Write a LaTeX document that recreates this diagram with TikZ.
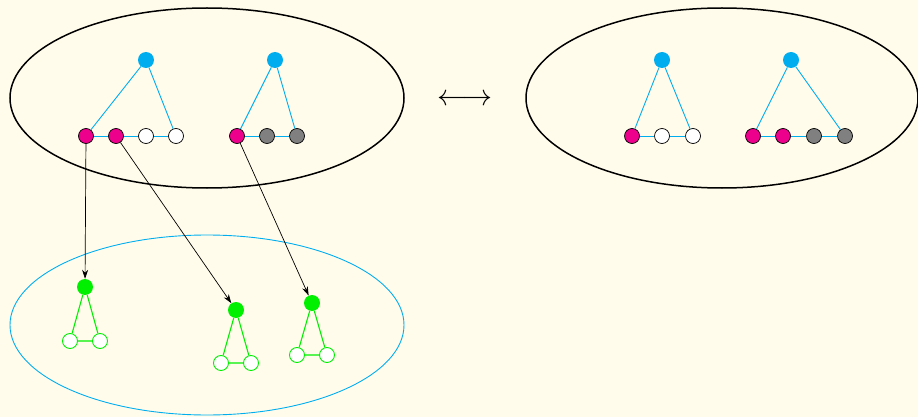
\documentclass[tikz,border=0pt]{standalone}
\usetikzlibrary{arrows.meta}
\definecolor{bgc}{RGB}{255,252,236}
\definecolor{cy}{RGB}{0,174,239}
\definecolor{mg}{RGB}{236,0,140}
\definecolor{gr}{RGB}{0,240,0}
\tikzset{
  topn/.style={circle,fill=cy,inner sep=0pt,minimum size=16pt},
  mgn/.style={circle,draw=black,fill=mg,inner sep=0pt,minimum size=15pt,line width=0.7pt},
  whn/.style={circle,draw=black,fill=white,inner sep=0pt,minimum size=15pt,line width=0.7pt},
  gyn/.style={circle,draw=black,fill=gray,inner sep=0pt,minimum size=15pt,line width=0.7pt},
  gtop/.style={circle,fill=gr,inner sep=0pt,minimum size=16pt},
  gwn/.style={circle,draw=gr,fill=white,inner sep=0pt,minimum size=15pt,line width=0.9pt},
  cedge/.style={draw=cy,line width=0.9pt},
  gedge/.style={draw=gr,line width=1.1pt},
  map/.style={draw=black,line width=0.7pt,-{Stealth[length=9pt,width=6pt]}},
}
\begin{document}
\begin{tikzpicture}[x=1pt,y=-1pt]
\fill[bgc] (0,0) rectangle (918,417);
\useasboundingbox (0,0) rectangle (918,417);
% ellipses
\draw[black,line width=1.5pt] (207,98) ellipse [x radius=197,y radius=90];
\draw[black,line width=1.5pt] (722,98) ellipse [x radius=196,y radius=90];
\draw[cy,line width=0.9pt] (207,325) ellipse [x radius=197,y radius=90];
% arrow
\node[scale=3,inner sep=0pt] (lr) at (465,100) {$\longleftrightarrow$};
% left top graphs
\node[topn] (a) at (146,60) {};
\node[topn] (b) at (275,60) {};
\node[mgn] (a1) at (86,136) {};
\node[mgn] (a2) at (116,136) {};
\node[whn] (a3) at (146,136) {};
\node[whn] (a4) at (176,136) {};
\node[mgn] (b1) at (237,136) {};
\node[gyn] (b2) at (267,136) {};
\node[gyn] (b3) at (297,136) {};
% right graphs
\node[topn] (c) at (662,60) {};
\node[topn] (d) at (791,60) {};
\node[mgn] (c1) at (632,136) {};
\node[whn] (c2) at (662,136) {};
\node[whn] (c3) at (693,136) {};
\node[mgn] (d1) at (753,136) {};
\node[mgn] (d2) at (783,136) {};
\node[gyn] (d3) at (814,136) {};
\node[gyn] (d4) at (845,136) {};
% cyan edges (between node borders)
\draw[cedge] (a) -- (a1);
\draw[cedge] (a) -- (a4);
\draw[cedge] (a1) -- (a2) -- (a3) -- (a4);
\draw[cedge] (b) -- (b1);
\draw[cedge] (b) -- (b3);
\draw[cedge] (b1) -- (b2) -- (b3);
\draw[cedge] (c) -- (c1);
\draw[cedge] (c) -- (c3);
\draw[cedge] (c1) -- (c2) -- (c3);
\draw[cedge] (d) -- (d1);
\draw[cedge] (d) -- (d4);
\draw[cedge] (d1) -- (d2) -- (d3) -- (d4);
% green graphs
\node[gtop] (g1) at (85,287) {};
\node[gwn] (g1a) at (70,341) {};
\node[gwn] (g1b) at (100,341) {};
\node[gtop] (g2) at (236,310) {};
\node[gwn] (g2a) at (221,363) {};
\node[gwn] (g2b) at (251,363) {};
\node[gtop] (g3) at (312,303) {};
\node[gwn] (g3a) at (297,355) {};
\node[gwn] (g3b) at (327,355) {};
\draw[gedge] (g1) -- (g1a) -- (g1b) -- (g1);
\draw[gedge] (g2) -- (g2a) -- (g2b) -- (g2);
\draw[gedge] (g3) -- (g3a) -- (g3b) -- (g3);
% maps
\draw[map] (a1) -- (g1);
\draw[map] (a2) -- (g2);
\draw[map] (b1) -- (g3);
\end{tikzpicture}
\end{document}
